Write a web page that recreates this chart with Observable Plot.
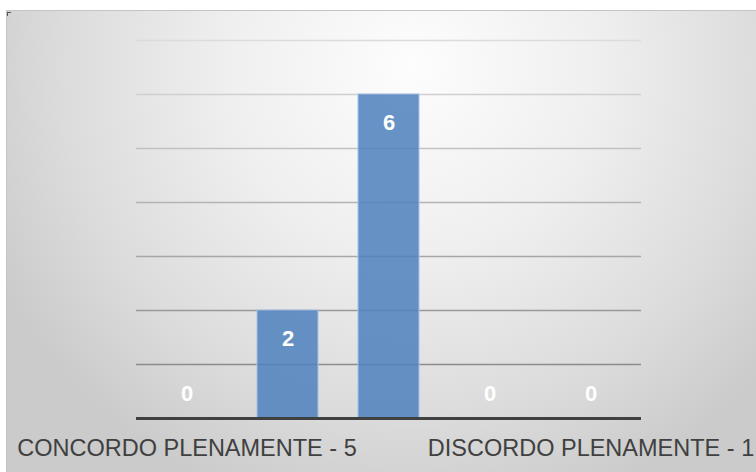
<!DOCTYPE html>
<html>
<head>
<meta charset="utf-8">
<script src="https://cdn.jsdelivr.net/npm/d3@7"></script>
<script src="https://cdn.jsdelivr.net/npm/@observablehq/plot@0.6"></script>
<style>
  html, body { margin: 0; padding: 0; background: #fff; }
  #wrap { position: relative; width: 756px; height: 472px; overflow: hidden; }
  #panel {
    position: absolute; left: 6px; top: 10px; width: 750px; height: 462px;
    border-top: 1.5px solid #c4c4c4; border-left: 1.5px solid #c4c4c4;
    background: radial-gradient(ellipse 62% 100% at 54% 12%, #fdfdfd 0%, #efefef 40%, #dcdcdc 75%, #cbcbcb 100%);
  }
  #corner { position: absolute; left: 7px; top: 12px; width: 3px; height: 3px;
    border-top: 1px solid #555; border-left: 1px solid #555; }
  #chart { position: absolute; left: 0; top: 0; }
</style>
</head>
<body>
<div id="wrap">
  <div id="panel"></div>
  <div id="corner"></div>
  <div id="chart"></div>
</div>
<script>
// Survey answers, from full agreement (5) down to full disagreement (1)
const categories = ["CONCORDO PLENAMENTE - 5", "4", "3", "2", "DISCORDO PLENAMENTE - 1"];
const values = [0, 2, 6, 0, 0];
// Horizontal gridlines and the two category labels shown on the axis
const gridValues = [1, 2, 3, 4, 5, 6, 7];
const tickLabels = ["CONCORDO PLENAMENTE - 5", "DISCORDO PLENAMENTE - 1"];

const data = categories.map((c, i) => ({category: c, value: values[i]}));
// Gridlines fade from darker near the baseline to lighter at the top
const gridColor = d3.interpolateRgb("#8c8c8c", "#dcdcdc");

const chart = Plot.plot({
  width: 756,
  height: 472,
  marginLeft: 136,
  marginRight: 115,
  marginTop: 40,
  marginBottom: 54,
  style: {background: "transparent", fontFamily: "'Liberation Sans', Arial, sans-serif", overflow: "visible"},
  x: {domain: categories, paddingInner: 0.4, paddingOuter: 0.2, label: null},
  y: {domain: [0, 7], axis: null},
  marks: [
    Plot.ruleY(gridValues, {stroke: d => gridColor((d - 1) / 6), strokeWidth: 1.4}),
    Plot.barY(data, {x: "category", y: "value", fill: "#4f81bd", fillOpacity: 0.86, stroke: "#a8c2e3", strokeWidth: 1}),
    Plot.ruleY([0], {stroke: "#404040", strokeWidth: 3}),
    Plot.text(data.filter(d => d.value > 0), {
      x: "category", y: "value", text: d => String(d.value),
      dy: 28, fill: "white", fontWeight: "bold", fontSize: 22
    }),
    Plot.text(data.filter(d => d.value === 0), {
      x: "category", y: "value", text: d => String(d.value),
      dy: -25, fill: "white", fontWeight: "bold", fontSize: 22
    }),
    Plot.axisX({ticks: tickLabels, tickSize: 0, tickPadding: 21, fontSize: 23.5, fill: "#404040", textOverflow: null})
  ]
});
document.getElementById("chart").appendChild(chart);
</script>
</body>
</html>
